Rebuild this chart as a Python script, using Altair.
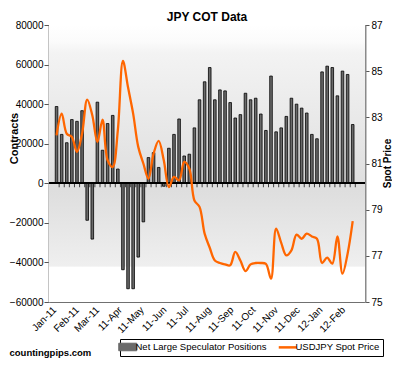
import altair as alt
import pandas as pd

# ---- data ----
net_positions = [38800, 24700, 20500, 32200, 31300, 36700, -18700, -28200, 41000, 16700,
                 30200, 34300, 7200, -43700, -53300, -53300, -37300, -19500, 13000, 15500,
                 8000, -1500, 17700, 24700, 32500, 13800, 14700, 28000, 42200, 51300,
                 58500, 42200, 47200, 46700, 40800, 33000, 34700, 45500, 42200, 43000,
                 35000, 26700, 54200, 26000, 28000, 33800, 43000, 40000, 38000, 35500,
                 24700, 22500, 56300, 59200, 58500, 44200, 56700, 55000, 29700]
spot_price = [82.22, 83.16, 82.29, 82.15, 81.50, 82.29, 83.77, 83.09, 81.93, 82.90,
              81.14, 80.85, 82.44, 85.44, 84.30, 83.16, 81.72, 81.00, 80.34, 81.43,
              81.98, 81.14, 79.98, 80.42, 80.27, 81.07, 80.78, 79.40, 79.12, 77.96,
              77.35, 76.80, 76.69, 76.63, 76.59, 77.17, 76.80, 76.34, 76.63, 76.69,
              76.69, 76.65, 76.01, 78.18, 77.56, 77.02, 77.24, 77.92, 77.74, 77.96,
              77.84, 77.74, 76.69, 76.92, 76.66, 77.84, 76.23, 77.09, 78.50]
tick_labels = ["Jan-11", "Feb-11", "Mar-11", "11-Apr", "11-May", "11-Jun", "11-Jul",
               "11-Aug", "11-Sep", "11-Oct", "11-Nov", "11-Dec", "12-Jan", "12-Feb"]
series_names = ["Net Large Speculator Positions", "USDJPY Spot Price"]
contracts_ticks = [-60000, -40000, -20000, 0, 20000, 40000, 60000, 80000]
spot_ticks = [75, 77, 79, 81, 83, 85, 87]

dates = pd.date_range("2011-01-04", periods=len(net_positions), freq="7D")
df = pd.DataFrame({
    "date": dates.strftime("%Y-%m-%dT00:00:00"),
    "net": net_positions,
    "spot": spot_price,
    "s1": series_names[0],
    "s2": series_names[1],
})

FONT = "Liberation Sans"

tick_dates = [alt.DateTime(year=2011 + i // 12, month=i % 12 + 1, date=1)
              for i in range(len(tick_labels))]
label_js = "[" + ",".join("'" + t + "'" for t in tick_labels) + "]"
label_expr = label_js + "[(year(datum.value)-2011)*12+month(datum.value)]"

x_scale = alt.Scale(domain=[alt.DateTime(year=2010, month=12, date=31, hours=12),
                            alt.DateTime(year=2012, month=2, date=24)])
x_axis = alt.Axis(values=tick_dates, labelExpr=label_expr, labelAngle=-45,
                  labelAlign="right", labelBaseline="middle", labelPadding=6,
                  labelFontSize=10, labelOverlap=False, labelFlush=False,
                  ticks=False, domain=False, grid=False,
                  title="countingpips.com", titleFontSize=9.5,
                  titleFontWeight="bold", titleX=-40, titleY=53,
                  titleAlign="left", titleBaseline="alphabetic")
x_enc = alt.X("date:T", scale=x_scale, axis=x_axis)

y_scale = alt.Scale(domain=[-60000, 80000], nice=False)
y_axis = alt.Axis(orient="left", values=contracts_ticks, format="d",
                  labelOverlap=False, labelFlush=False,
                  grid=True, gridColor="#707070", gridWidth=1,
                  domainColor="#8a8a8a", domainWidth=2,
                  tickColor="#555555", tickSize=5, labelPadding=1,
                  labelFontSize=10, labelColor="#000000",
                  title="Contracts", titleFontSize=11, titleFontWeight="bold",
                  titleAngle=270, titleX=-35, titleY=113,
                  titleAlign="center", titleBaseline="middle")

color_scale = alt.Scale(domain=series_names, range=["#6a6a6a", "#ff6600"])
legend = alt.Legend(
    title=None, orient="none", legendX=71, legendY=314, direction="horizontal",
    strokeColor="#000000", fillColor="#ffffff", padding=3, labelFontSize=9.5,
    columnPadding=6, labelOffset=3, labelLimit=200,
    symbolType={"expr": "datum.value == 'USDJPY Spot Price' ? 'stroke' : 'M-1,-0.42H1V0.42H-1Z'"},
    symbolSize=324,
    symbolStrokeWidth={"expr": "datum.value == 'USDJPY Spot Price' ? 2.5 : 1"},
    symbolStrokeColor={"expr": "datum.value == 'USDJPY Spot Price' ? '#ff6600' : '#000000'"},
    symbolFillColor={"expr": "datum.value == 'USDJPY Spot Price' ? 'transparent' : '#8a8a8a'"},
)

bg = alt.Chart(pd.DataFrame({"a": [0]})).mark_rect(
    color=alt.Gradient(
        gradient="linear", x1=0, x2=0, y1=0, y2=1,
        stops=[alt.GradientStop(color="#ffffff", offset=0),
               alt.GradientStop(color="#fbfbfb", offset=0.06),
               alt.GradientStop(color="#f3f3f3", offset=0.1),
               alt.GradientStop(color="#dedede", offset=0.6),
               alt.GradientStop(color="#efefef", offset=0.87),
               alt.GradientStop(color="#ffffff", offset=0.875),
               alt.GradientStop(color="#ffffff", offset=1)])
).encode(y=alt.Y(datum=80000, scale=y_scale, axis=y_axis), y2=alt.datum(-60000))

bars = alt.Chart(df).mark_bar(width=2.6, stroke="#000000", strokeWidth=0.8).encode(
    x=x_enc,
    y=alt.Y("net:Q", scale=y_scale, axis=y_axis),
    color=alt.Color("s1:N", scale=color_scale, legend=legend),
)

zero = alt.Chart(df).mark_rule(color="#000000", strokeWidth=1).encode(
    y=alt.Y(datum=0, scale=y_scale, axis=y_axis))

zticks = alt.Chart(df).mark_tick(orient="vertical", size=4, thickness=1,
                                 color="#000000", xOffset=2.6, yOffset=2).encode(
    x=x_enc, y=alt.Y(datum=0, scale=y_scale, axis=y_axis))

left = alt.layer(bg, bars, zero, zticks)

line = alt.Chart(df).mark_line(strokeWidth=2.3, interpolate="catmull-rom").encode(
    x=x_enc,
    y=alt.Y("spot:Q", scale=alt.Scale(domain=[75, 87], nice=False),
            axis=alt.Axis(orient="right", values=spot_ticks, grid=False,
                          labelOverlap=False, labelFlush=False,
                          domainColor="#8a8a8a", domainWidth=2,
                          tickColor="#555555", tickSize=4, labelPadding=2,
                          labelFontSize=10, labelColor="#000000",
                          title="Spot Price", titleFontSize=10, titleFontWeight="bold",
                          titleAngle=270, titleX=22.5, titleY=138,
                          titleAlign="center", titleBaseline="middle")),
    color=alt.Color("s2:N", scale=color_scale, legend=legend),
)

chart = alt.layer(left, line).resolve_scale(y="independent").properties(
    width=316, height=277,
    title=alt.Title("JPY COT Data", fontSize=12, fontWeight="bold", font=FONT,
                    anchor="middle", offset=6, dy=10),
    autosize=alt.AutoSizeParams(type="none"),
    padding={"left": 41, "top": 17, "right": 27, "bottom": 56},
).configure(font=FONT).configure_view(stroke=None).configure_axis(
    labelFont=FONT, titleFont=FONT, labelOverlap=False
).configure_legend(labelFont=FONT)

chart.save("out.html", embed_options={"renderer": "svg", "actions": False})
